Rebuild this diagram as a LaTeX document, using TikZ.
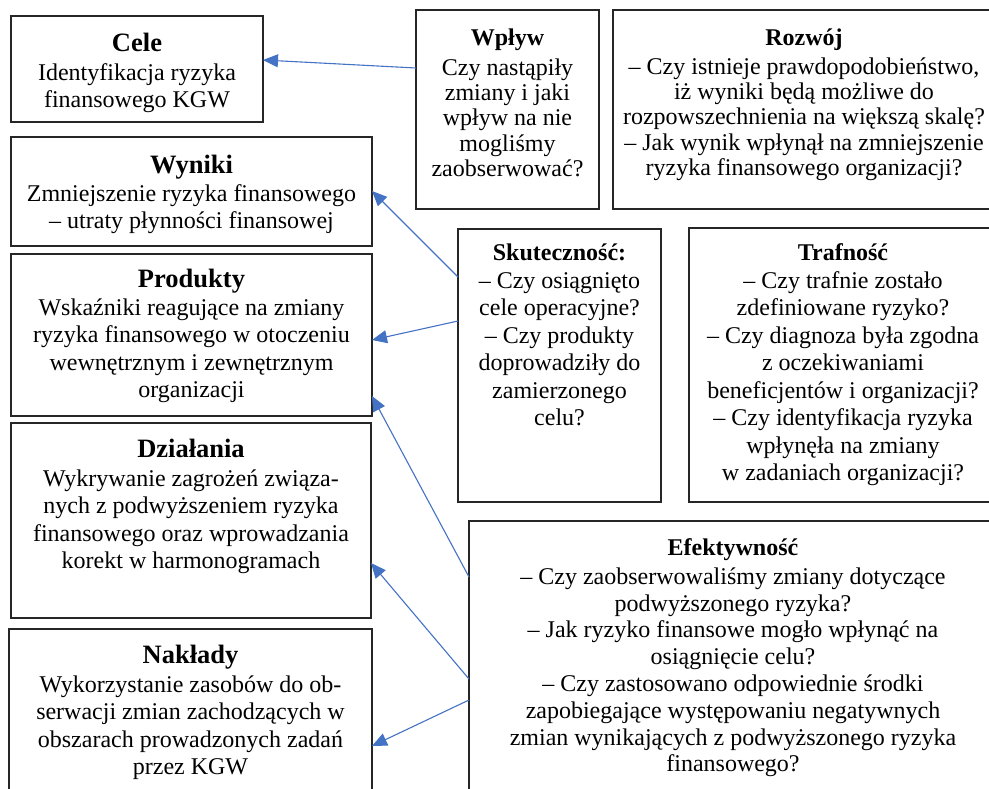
\documentclass[tikz,border=0pt]{standalone}
\usepackage{fontspec}
\setmainfont{Liberation Serif}
\usetikzlibrary{arrows.meta}
\definecolor{arrblue}{RGB}{68,114,196}
\begin{document}
\begin{tikzpicture}[x=1pt,y=-1pt,
 box/.style={draw=black!85,line width=1.3pt,rectangle,inner sep=0pt,outer sep=0pt},
 head/.style={font=\fontsize{26.5}{30}\selectfont\bfseries,anchor=base,inner sep=0pt},
 headsm/.style={font=\fontsize{24}{27}\selectfont\bfseries,anchor=base,inner sep=0pt},
 body/.style={font=\fontsize{24}{27.5}\selectfont,align=center,anchor=north,inner sep=0pt},
 bodytight/.style={font=\fontsize{24}{25.3}\selectfont,align=center,anchor=north,inner sep=0pt},
 bodyef/.style={font=\fontsize{24}{26.8}\selectfont,align=center,anchor=north,inner sep=0pt},
 arr/.style={draw=arrblue,line width=1.1pt,-{Triangle[length=15pt,width=13pt]}}]
\useasboundingbox (0,0) rectangle (989,788);
\clip (0,0) rectangle (989,788);

% left column
\node[box,minimum width=252pt,minimum height=106pt] (cele) at (137,69) {};
\node[head] (celeH) at (137,51) {Cele};
\node[body] (celeT) at (137,60) {\rule{0pt}{20pt}Identyfikacja ryzyka\\finansowego KGW};

\node[box,minimum width=361pt,minimum height=109pt] (wyn) at (191.5,191.5) {};
\node[head] (wynH) at (191.5,173) {Wyniki};
\node[body] (wynT) at (191.5,181) {\rule{0pt}{20pt}Zmniejszenie ryzyka finansowego\\– utraty płynności finansowej};

\node[box,minimum width=361pt,minimum height=162pt] (prod) at (191.5,335) {};
\node[head] (prodH) at (191.5,287) {Produkty};
\node[body] (prodT) at (191.5,295) {\rule{0pt}{20pt}Wskaźniki reagujące na zmiany\\ryzyka finansowego w otoczeniu\\wewnętrznym i zewnętrznym\\organizacji};

\node[box,minimum width=360pt,minimum height=195pt] (dzial) at (191,520.5) {};
\node[head] (dzialH) at (191,457) {Działania};
\node[body] (dzialT) at (191,466) {\rule{0pt}{20pt}Wykrywanie zagrożeń związa-\\nych z podwyższeniem ryzyka\\finansowego oraz wprowadzania\\korekt w harmonogramach};

\node[box,minimum width=363pt,minimum height=181pt] (nakl) at (190.5,719.5) {};
\node[head] (naklH) at (190.5,663) {Nakłady};
\node[body] (naklT) at (190.5,672) {\rule{0pt}{20pt}Wykorzystanie zasobów do ob-\\serwacji zmian zachodzących w\\obszarach prowadzonych zadań\\przez KGW};

% top right
\node[box,minimum width=183pt,minimum height=199pt] (wp) at (507.5,109.5) {};
\node[headsm] (wpH) at (507.5,45) {Wpływ};
\node[bodytight] (wpT) at (507.5,55) {\rule{0pt}{20pt}Czy nastąpiły\\zmiany i jaki\\wpływ na nie\\mogliśmy\\zaobserwować?};

\node[box,minimum width=382pt,minimum height=199pt] (roz) at (804,109.5) {};
\node[headsm] (rozH) at (804,45) {Rozwój};
\node[bodytight] (rozT) at (804,54) {\rule{0pt}{20pt}– Czy istnieje prawdopodobieństwo,\\iż wyniki będą możliwe do\\rozpowszechnienia na większą skalę?\\– Jak wynik wpłynął na zmniejszenie\\ryzyka finansowego organizacji?};

% middle right
\node[box,minimum width=203pt,minimum height=273pt] (skut) at (559.5,365.5) {};
\node[headsm] (skutH) at (559.5,260) {Skuteczność:};
\node[body] (skutT) at (559.5,268) {\rule{0pt}{20pt}– Czy osiągnięto\\cele operacyjne?\\– Czy produkty\\doprowadziły do\\zamierzonego\\celu?};

\node[box,minimum width=308pt,minimum height=274pt] (traf) at (843,365) {};
\node[headsm] (trafH) at (843,260) {Trafność};
\node[body] (trafT) at (843,268) {\rule{0pt}{20pt}– Czy trafnie zostało\\zdefiniowane ryzyko?\\– Czy diagnoza była zgodna\\z oczekiwaniami\\beneficjentów i organizacji?\\– Czy identyfikacja ryzyka\\wpłynęła na zmiany\\w zadaniach organizacji?};

% bottom right
\node[box,minimum width=528pt,minimum height=289pt] (efek) at (733,665.5) {};
\node[headsm] (efekH) at (733,555) {Efektywność};
\node[bodyef] (efekT) at (733,564) {\rule{0pt}{20pt}– Czy zaobserwowaliśmy zmiany dotyczące\\podwyższonego ryzyka?\\– Jak ryzyko finansowe mogło wpłynąć na\\osiągnięcie celu?\\– Czy zastosowano odpowiednie środki\\zapobiegające występowaniu negatywnych\\zmian wynikających z podwyższonego ryzyka\\finansowego?};

% connectors
\draw[arr] ([yshift=-58pt]wp.north west) -- ([yshift=-44pt]cele.north east);
\draw[arr] ([yshift=-48pt]skut.north west) -- ([yshift=-54pt]wyn.north east);
\draw[arr] ([yshift=-92pt]skut.north west) -- ([yshift=-86pt]prod.north east);
\draw[arr] ([yshift=-56pt]efek.north west) -- ([yshift=-142pt]prod.north east);
\draw[arr] ([yshift=-158pt]efek.north west) -- ([yshift=-140pt]dzial.north east);
\draw[arr] ([yshift=-179pt]efek.north west) -- ([yshift=-117pt]nakl.north east);
\end{tikzpicture}
\end{document}
